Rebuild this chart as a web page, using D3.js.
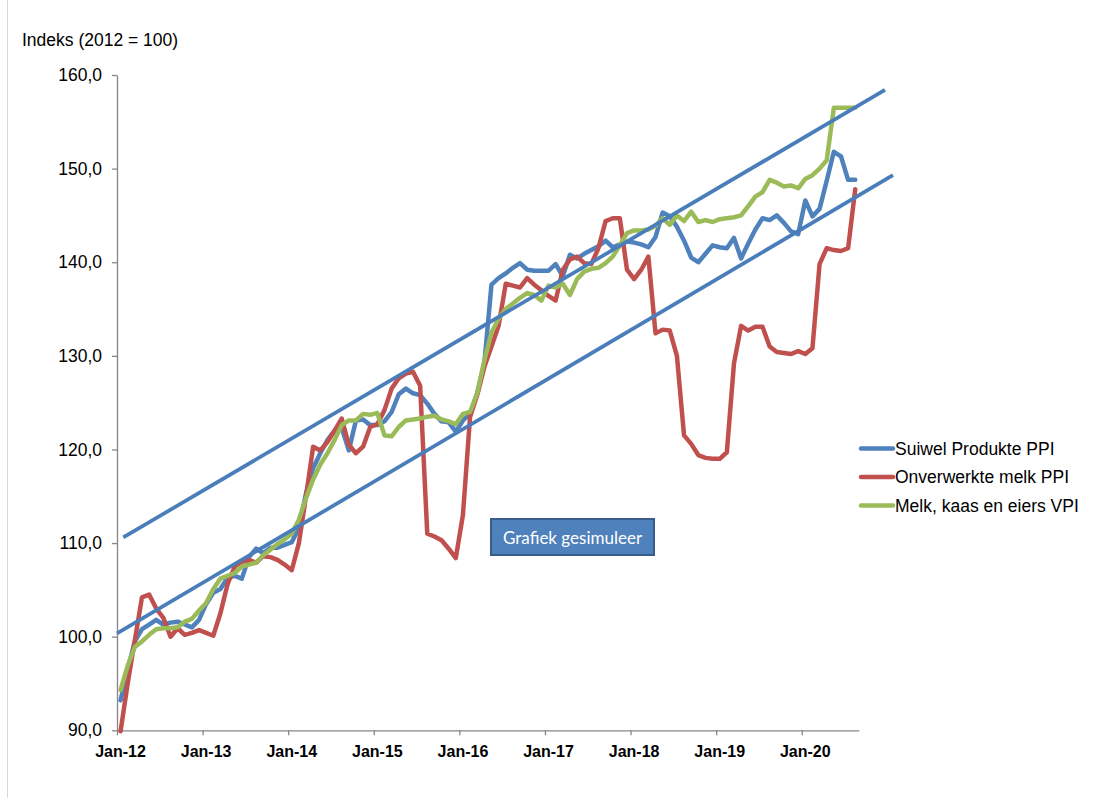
<!DOCTYPE html>
<html><head><meta charset="utf-8">
<script src="https://cdn.jsdelivr.net/npm/d3@7/dist/d3.min.js"></script>
<style>html,body{margin:0;padding:0;background:#fff;} svg{display:block;}</style>
</head><body>
<svg id="chart" width="1096" height="798"></svg>
<script>
// ---- data ----
const monthCount = 104; // Jan-12 .. Aug-20
const xTickLabels = ["Jan-12","Jan-13","Jan-14","Jan-15","Jan-16","Jan-17","Jan-18","Jan-19","Jan-20"];
const yTicks = [90, 100, 110, 120, 130, 140, 150, 160];
const seriesNames = ["Suiwel Produkte PPI", "Onverwerkte melk PPI", "Melk, kaas en eiers VPI"];
const seriesColors = ["#4F81BD", "#C0504D", "#9BBB59"];

const suiwelPPI = [
  93.2, 96.5, 99.5, 100.8, 101.3, 101.8, 101.3, 101.5, 101.6, 101.3,
  101.0, 101.8, 103.5, 104.7, 105.1, 106.3, 106.5, 106.2, 108.5, 109.4,
  108.9, 109.5, 109.5, 109.8, 110.1, 111.6, 115.3, 118.0, 119.6, 121.0,
  122.0, 122.3, 119.9, 123.1, 123.2, 122.6, 122.6, 123.0, 124.0, 125.9,
  126.5, 126.0, 125.8, 124.9, 123.8, 123.0, 122.9, 121.9, 123.1, 123.8,
  126.0, 129.2, 137.6, 138.3, 138.8, 139.4, 139.9, 139.2, 139.1, 139.1,
  139.1, 139.8, 138.5, 140.8, 140.4, 140.9, 141.3, 141.7, 142.3, 141.6,
  141.9, 142.2, 142.1, 141.9, 141.6, 142.7, 145.3, 144.9, 143.8, 142.3,
  140.5, 140.0, 140.9, 141.8, 141.6, 141.5, 142.6, 140.4, 142.0, 143.5,
  144.7, 144.5, 145.0, 144.2, 143.3, 143.0, 146.6, 144.9, 145.7, 148.7,
  151.8, 151.3, 148.8, 148.8
];
const onverwerkteMelkPPI = [
  89.9, 95.0, 99.6, 104.2, 104.5, 103.0, 102.0, 100.0, 100.9, 100.2,
  100.4, 100.7, 100.4, 100.1, 102.5, 105.6, 107.5, 108.0, 108.2, 107.9,
  108.6, 108.5, 108.2, 107.7, 107.1, 110.0, 115.0, 120.3, 119.9, 120.8,
  122.0, 123.3, 120.5, 119.6, 120.3, 122.4, 122.7, 124.2, 126.5, 127.6,
  128.1, 128.3, 126.8, 111.0, 110.7, 110.3, 109.4, 108.4, 113.0, 123.5,
  125.8, 128.8, 131.0, 133.2, 137.7, 137.5, 137.3, 138.3, 137.6, 137.0,
  136.4, 135.9, 139.2, 140.3, 140.6, 139.9, 139.8, 141.5, 144.4, 144.7,
  144.7, 139.2, 138.2, 139.2, 140.6, 132.4, 132.8, 132.7, 130.0, 121.5,
  120.6, 119.4, 119.1, 119.0, 119.0, 119.7, 129.2, 133.2, 132.7, 133.1,
  133.1, 131.0, 130.4, 130.3, 130.2, 130.5, 130.2, 130.8, 139.8, 141.5,
  141.3, 141.2, 141.5, 147.8
];
const melkKaasEiersVPI = [
  94.3, 96.9, 98.9, 99.5, 100.2, 100.8, 100.9, 100.9, 101.0, 101.6,
  101.9, 102.8, 103.6, 105.1, 106.2, 106.5, 106.8, 107.5, 107.7, 107.9,
  108.7, 109.3, 109.9, 110.4, 111.0, 112.5, 114.8, 116.8, 118.4, 119.6,
  121.0, 122.6, 123.1, 123.1, 123.8, 123.7, 123.9, 121.5, 121.4, 122.4,
  123.1, 123.2, 123.3, 123.5, 123.6, 123.2, 123.0, 122.7, 123.8, 124.0,
  126.0, 129.5, 132.5, 134.0, 135.0, 135.6, 136.2, 136.7, 136.5, 135.9,
  137.5, 137.3, 137.7, 136.5, 138.2, 139.0, 139.3, 139.4, 139.9, 140.6,
  141.8, 143.1, 143.4, 143.4, 143.5, 143.9, 144.7, 144.0, 145.0, 144.4,
  145.4, 144.3, 144.5, 144.3, 144.6, 144.7, 144.8, 145.0, 146.0, 147.0,
  147.5, 148.8, 148.5, 148.1, 148.2, 147.9, 148.9, 149.3, 150.0, 150.9,
  156.5, 156.5, 156.5, 156.5
];
// hand-drawn trend channel lines: [month position, index value]
const trendUpper = [[0.88, 110.6], [107.67, 158.4]];
const trendLower = [[0.0, 100.35], [108.79, 149.3]];
const boxLabel = "Grafiek gesimuleer";
const yTitle = "Indeks (2012 = 100)";

// ---- drawing ----
const svg = d3.select("#chart");
const x = d3.scaleLinear().domain([0, monthCount]).range([117, 858.8]);
const y = d3.scaleLinear().domain([90, 160]).range([730.3, 75]);
const axisColor = "#868686";
const font = "Liberation Sans, Arial, sans-serif";

// outer frame line on left
svg.append("line").attr("x1", 7.5).attr("x2", 7.5).attr("y1", 0).attr("y2", 798)
  .attr("stroke", "#d9d9d9").attr("stroke-width", 1);

// title
svg.append("text").attr("x", 22).attr("y", 46)
  .attr("font-family", font).attr("font-size", 17.5)
  .attr("fill", "#000").text(yTitle);

// y axis
const yAxis = d3.axisLeft(y).tickValues(yTicks).tickSize(5).tickSizeOuter(0).tickPadding(10)
  .tickFormat(d => d3.format(".1f")(d).replace(".", ","));
const gy = svg.append("g").attr("transform", `translate(${x(0)},0)`).call(yAxis);
gy.select(".domain").attr("stroke", axisColor).attr("stroke-width", 1.3);
gy.selectAll(".tick line").attr("stroke", axisColor).attr("stroke-width", 1.3);
gy.selectAll(".tick text").attr("font-family", font)
  .attr("font-size", 17.5).attr("fill", "#000");

// x axis
const xTickPos = xTickLabels.map((d, i) => i * 12);
const xAxis = d3.axisBottom(x).tickValues(xTickPos).tickSize(5).tickSizeOuter(0).tickFormat("");
const gx = svg.append("g").attr("transform", `translate(0,${y(90)})`).call(xAxis);
gx.select(".domain").attr("stroke", axisColor).attr("stroke-width", 1.3);
gx.selectAll(".tick line").attr("stroke", axisColor).attr("stroke-width", 1.3);
svg.append("g").selectAll("text").data(xTickLabels).join("text")
  .attr("x", (d, i) => x(i * 12 + 0.5)).attr("y", 757)
  .attr("text-anchor", "middle")
  .attr("font-family", font).attr("font-size", 16)
  .attr("font-weight", "bold").attr("fill", "#000").text(d => d);

// series lines
const seriesData = [suiwelPPI, onverwerkteMelkPPI, melkKaasEiersVPI];
const line = d3.line().x((d, i) => x(i + 0.5)).y(d => y(d));
seriesData.forEach((s, k) => {
  svg.append("path").datum(s).attr("d", line)
    .attr("fill", "none").attr("stroke", seriesColors[k]).attr("stroke-width", 4.5)
    .attr("stroke-linejoin", "round").attr("stroke-linecap", "round");
});

// trend channel lines (shapes on top)
const tline = d3.line().x(d => x(d[0])).y(d => y(d[1]));
[trendUpper, trendLower].forEach(t => {
  svg.append("path").datum(t).attr("d", tline)
    .attr("fill", "none").attr("stroke", "#4A7EBB").attr("stroke-width", 3.75);
});

// legend
const lg = svg.append("g");
seriesNames.forEach((n, k) => {
  const yy = 448.5 + k * 28.5;
  lg.append("line").attr("x1", 861).attr("x2", 893).attr("y1", yy).attr("y2", yy)
    .attr("stroke", seriesColors[k]).attr("stroke-width", 4.5).attr("stroke-linecap", "round");
  lg.append("text").attr("x", 895).attr("y", yy + 6)
    .attr("font-family", font).attr("font-size", 17.5)
    .attr("fill", "#000").text(n);
});

// text box
svg.append("rect").attr("x", 491).attr("y", 519).attr("width", 163).attr("height", 36)
  .attr("fill", "#4F81BD").attr("stroke", "#385D8A").attr("stroke-width", 2);
svg.append("text").attr("x", 503).attr("y", 543.5)
  .attr("font-family", "Lato, 'Open Sans', sans-serif").attr("font-size", 17)
  .attr("fill", "#fff").text(boxLabel);
</script>
</body></html>
